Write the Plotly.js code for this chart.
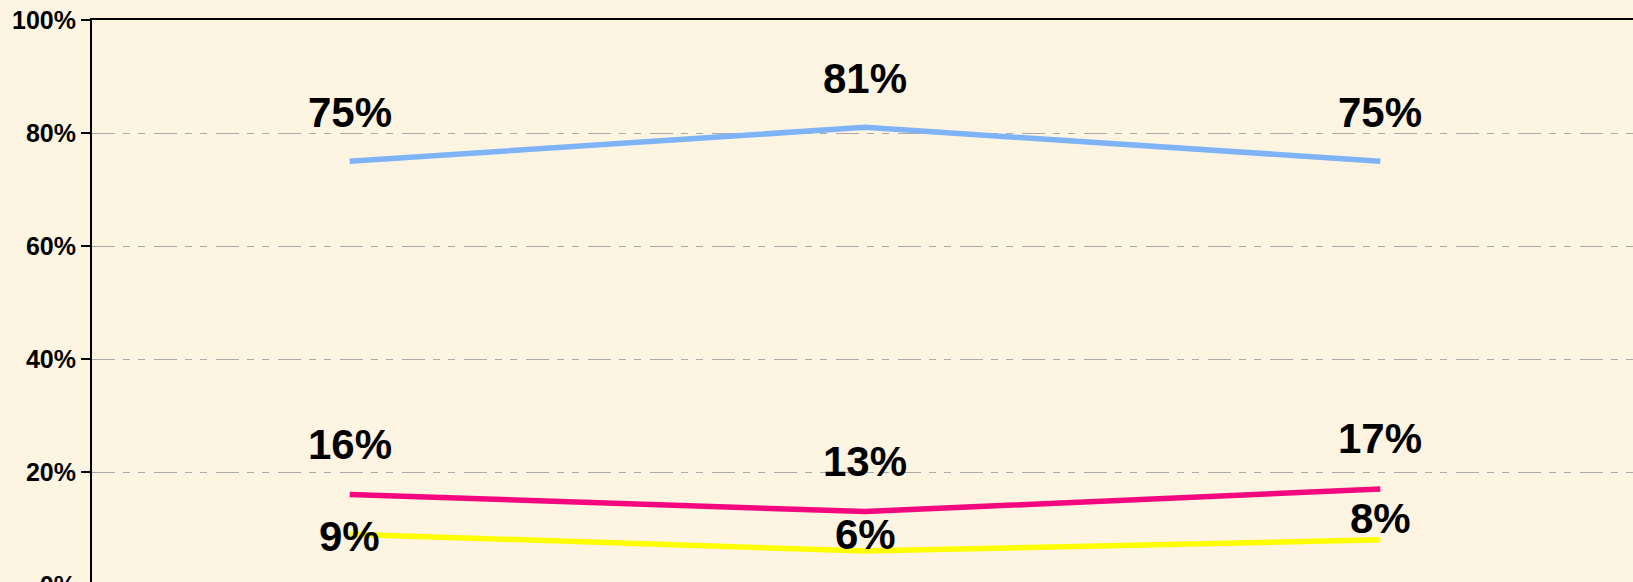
<!DOCTYPE html>
<html>
<head>
<meta charset="utf-8">
<script src="https://cdn.plot.ly/plotly-3.0.1.min.js"></script>
<style>
html,body{margin:0;padding:0;overflow:hidden;background:#FDF5E2;}
#chart{width:1640px;height:600px;}
</style>
</head>
<body>
<div id="chart"></div>
<script>
// Data
const categories = ["Wave 1", "Wave 2", "Wave 3"];
const seriesNames = ["Series A", "Series B", "Series C"];
const seriesA = [75, 81, 75];
const seriesB = [16, 13, 17];
const seriesC = [9, 6, 8];
const yTickVals = [0, 20, 40, 60, 80, 100];
const yTickText = ["0%", "20%", "40%", "60%", "80%", "100%"];

// Styles
const colors = ["#7FB3F7", "#F5077F", "#FFFF00"];
const labelShifts = [[49, 49, 49], [50, 50, 50], [-2, 17, 21]];

const allSeries = [seriesA, seriesB, seriesC];
const traces = allSeries.map((vals, i) => ({
  type: "scatter",
  mode: "lines",
  x: categories,
  y: vals,
  name: seriesNames[i],
  line: {color: colors[i], width: 5.5},
  hoverinfo: "skip"
}));

const annotations = [];
allSeries.forEach((vals, i) => {
  vals.forEach((v, j) => {
    annotations.push({
      x: categories[j], y: v, xref: "x", yref: "y",
      text: v + "%", showarrow: false,
      xanchor: "center", yanchor: "middle",
      yshift: labelShifts[i][j],
      font: {family: "Liberation Sans, Arial, sans-serif", size: 42, color: "#000", weight: "bold"}
    });
  });
});

const layout = {
  width: 1640, height: 600,
  margin: {l: 92, r: 2, t: 20, b: 15, pad: 0},
  paper_bgcolor: "#FDF5E2",
  plot_bgcolor: "#FDF5E2",
  showlegend: false,
  xaxis: {
    type: "category",
    range: [-0.5, 2.5],
    showticklabels: false,
    ticks: "",
    showgrid: false,
    zeroline: false,
    showline: true, linecolor: "#000", linewidth: 2, mirror: true
  },
  yaxis: {
    range: [0, 100],
    tickvals: yTickVals,
    ticktext: yTickText,
    ticks: "outside", ticklen: 9, tickwidth: 2, tickcolor: "#000",
    showline: true, linecolor: "#000", linewidth: 2,
    showgrid: true, gridcolor: "#AAAAAA", gridwidth: 1,
    griddash: "23px,8px,7px,8px,7px,9px",
    zeroline: false,
    tickfont: {family: "Liberation Sans, Arial, sans-serif", size: 25, color: "#000", weight: "bold"}
  },
  annotations: annotations
};

Plotly.newPlot("chart", traces, layout, {staticPlot: true, displayModeBar: false});
</script>
</body>
</html>
